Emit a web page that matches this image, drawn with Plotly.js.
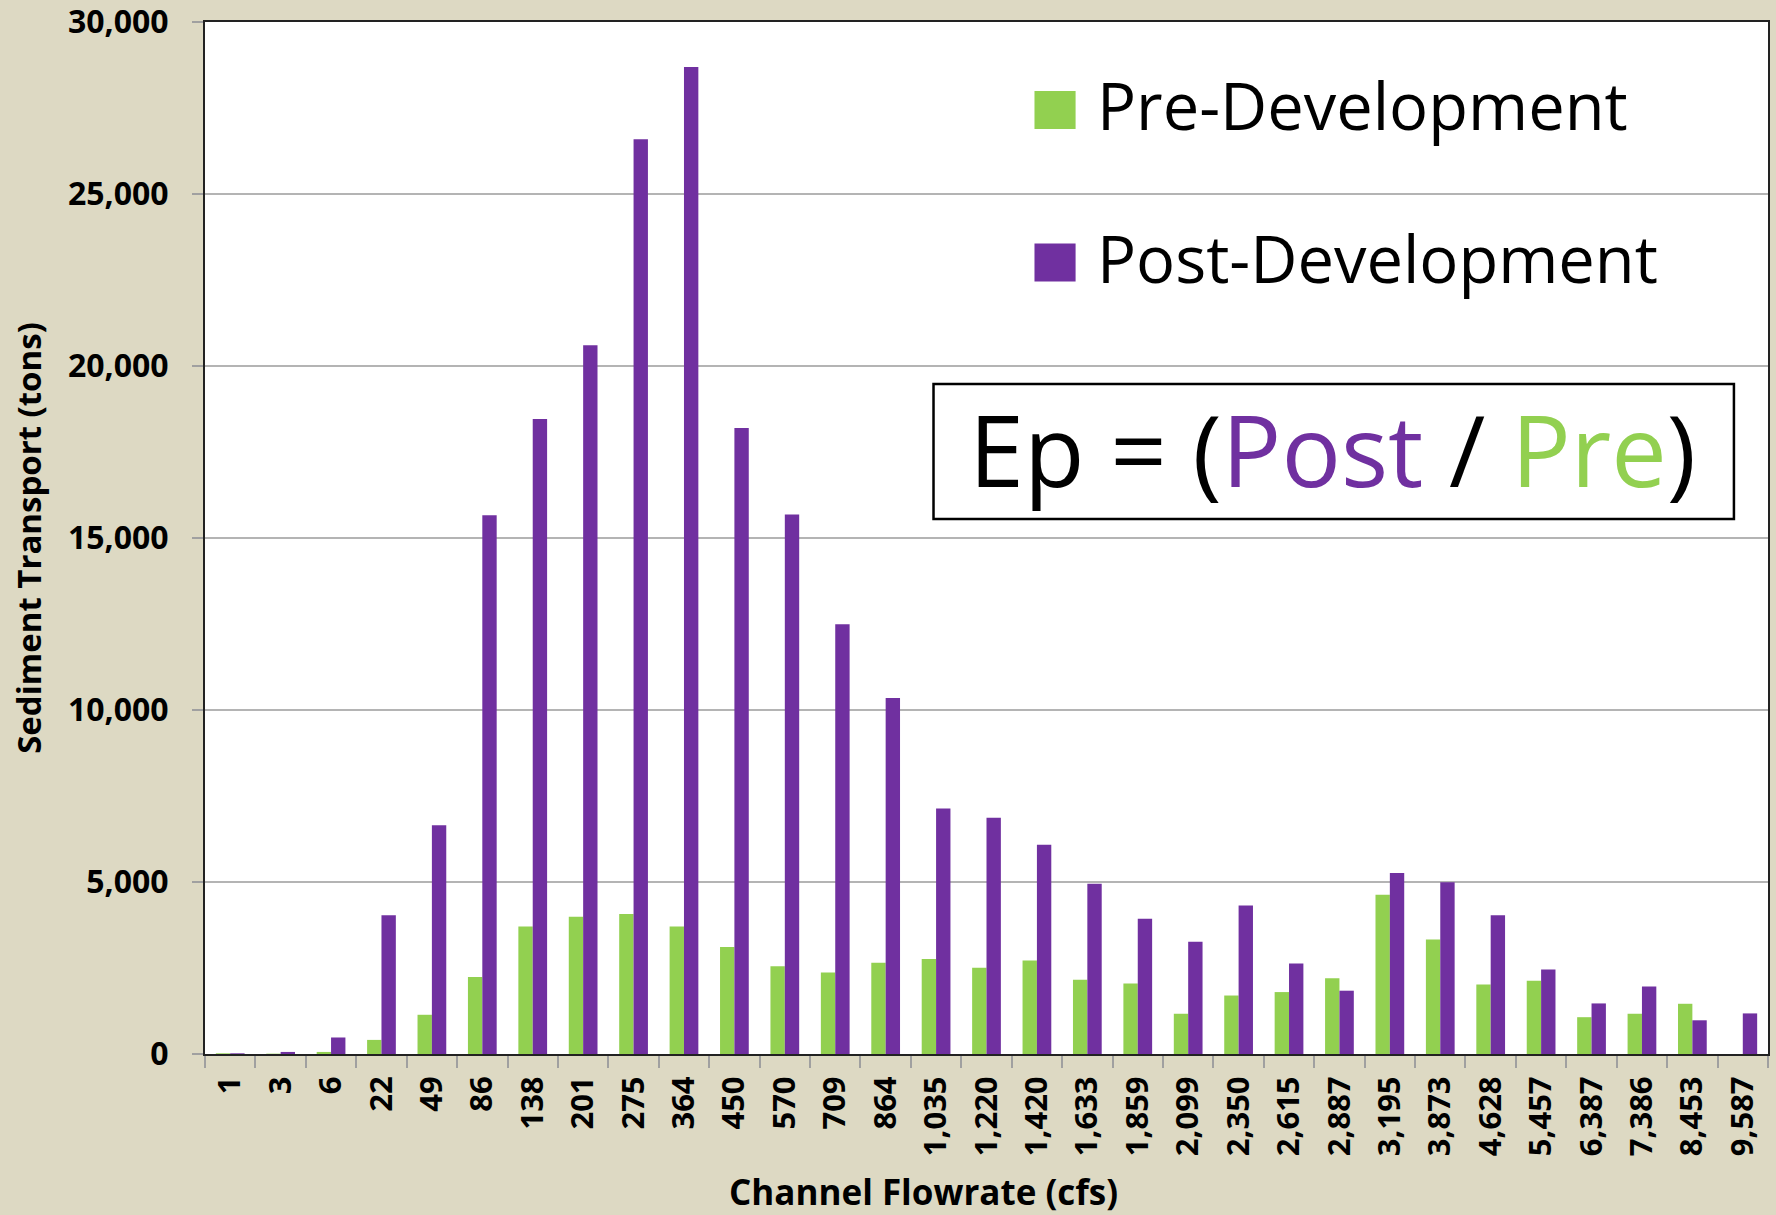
<!DOCTYPE html>
<html>
<head>
<meta charset="utf-8">
<script src="https://cdn.plot.ly/plotly-3.0.1.min.js"></script>
<style>
  html, body { margin: 0; padding: 0; background: #DDD9C3; }
  #chart { width: 1776px; height: 1215px; }
</style>
</head>
<body>
<div id="chart"></div>
<script>
// Channel flowrate bins (cfs)
const categories = ['1','3','6','22','49','86','138','201','275','364','450','570','709','864',
  '1,035','1,220','1,420','1,633','1,859','2,099','2,350','2,615','2,887','3,195','3,873',
  '4,628','5,457','6,387','7,386','8,453','9,587'];

// Sediment transport (tons)
const preDevelopment = [20, 10, 60, 410, 1140, 2240, 3710, 3990, 4070, 3710, 3110, 2550, 2370, 2650,
  2760, 2510, 2720, 2160, 2050, 1170, 1700, 1800, 2200, 4630, 3330,
  2020, 2130, 1070, 1170, 1460, 0];
const postDevelopment = [20, 60, 480, 4030, 6650, 15660, 18460, 20600, 26590, 28690, 18200, 15680, 12490, 10350,
  7140, 6870, 6080, 4950, 3930, 3260, 4320, 2630, 1840, 5260, 4990,
  4030, 2460, 1470, 1960, 980, 1180];

const seriesNames = ['Pre-Development', 'Post-Development'];
const yTicks = [0, 5000, 10000, 15000, 20000, 25000, 30000];
const xTitle = 'Channel Flowrate (cfs)';
const yTitle = 'Sediment Transport (tons)';

const GREEN = '#92D050';
const PURPLE = '#7030A0';
const FONT = '"Open Sans", "Noto Sans", sans-serif';

const traces = [
  { type: 'bar', name: seriesNames[0], x: categories, y: preDevelopment,
    marker: { color: GREEN }, showlegend: false },
  { type: 'bar', name: seriesNames[1], x: categories, y: postDevelopment,
    marker: { color: PURPLE }, showlegend: false }
];

const layout = {
  width: 1776, height: 1215,
  paper_bgcolor: '#DDD9C3',
  plot_bgcolor: '#FFFFFF',
  margin: { l: 205, r: 8, t: 22, b: 161, pad: 0 },
  barmode: 'group',
  bargap: 0.43,
  bargroupgap: 0,
  showlegend: false,
  font: { family: FONT, color: '#000' },
  xaxis: {
    type: 'category',
    tickangle: -90,
    ticks: 'outside', tickson: 'boundaries', ticklen: 12, tickwidth: 2, tickcolor: '#A0A0A0',
    ticklabelstandoff: 8,
    ticklabeloverflow: 'allow',
    tickfont: { family: FONT, size: 31, color: '#000', weight: 'bold' },
    showline: true, linecolor: '#222', linewidth: 2, mirror: true,
    showgrid: false, zeroline: false,
    automargin: false
  },
  yaxis: {
    range: [0, 30000],
    tickvals: yTicks,
    tickformat: ',d',
    ticks: 'outside', ticklen: 11, tickwidth: 2, tickcolor: '#A0A0A0',
    ticklabelstandoff: 17,
    ticklabeloverflow: 'allow',
    tickfont: { family: FONT, size: 32, color: '#000', weight: 'bold' },
    showline: true, linecolor: '#222', linewidth: 2, mirror: true,
    showgrid: true, gridcolor: '#B4B4B4', gridwidth: 1.5,
    zeroline: false,
    automargin: false,
    title: { text: yTitle, standoff: 16,
      font: { family: FONT, size: 33, color: '#000', weight: 'bold' } }
  },
  shapes: [
    // legend swatches
    { type: 'rect', xref: 'paper', yref: 'paper', x0: 0.5307, x1: 0.5570, y0: 0.8963, y1: 0.9331,
      fillcolor: GREEN, line: { width: 0 } },
    { type: 'rect', xref: 'paper', yref: 'paper', x0: 0.5307, x1: 0.5570, y0: 0.7485, y1: 0.7854,
      fillcolor: PURPLE, line: { width: 0 } },
    // Ep formula box
    { type: 'rect', xref: 'paper', yref: 'paper', x0: 0.4661, x1: 0.9782, y0: 0.5184, y1: 0.6492,
      fillcolor: '#FFFFFF', line: { color: '#000', width: 2.5 } }
  ],
  annotations: [
    // x-axis title (offset left of plot centre, as in the original)
    { xref: 'paper', yref: 'paper', x: 0.4597, y: -0.1337, xanchor: 'center', yanchor: 'middle',
      text: xTitle, showarrow: false,
      font: { family: FONT, size: 35, color: '#000', weight: 'bold' } },
    // legend labels
    { xref: 'paper', yref: 'paper', x: 0.5692, y: 0.9193, xanchor: 'left', yanchor: 'middle',
      text: seriesNames[0], showarrow: false,
      font: { family: FONT, size: 65, color: '#000' } },
    { xref: 'paper', yref: 'paper', x: 0.5692, y: 0.7710, xanchor: 'left', yanchor: 'middle',
      text: seriesNames[1], showarrow: false,
      font: { family: FONT, size: 65, color: '#000' } },
    // Ep formula
    { xref: 'paper', yref: 'paper', x: 0.7212, y: 0.5866, xanchor: 'center', yanchor: 'middle',
      text: 'Ep = (<span style="color:' + PURPLE + '">Post</span> / <span style="color:' + GREEN + '">Pre</span>)',
      showarrow: false,
      font: { family: FONT, size: 99, color: '#000' } }
  ]
};

Plotly.newPlot('chart', traces, layout, { staticPlot: true, displayModeBar: false });
</script>
</body>
</html>
